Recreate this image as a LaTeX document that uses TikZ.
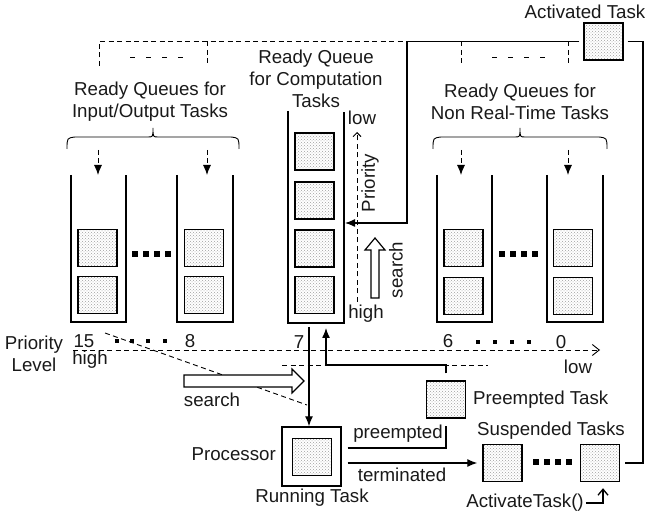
\documentclass[tikz,border=0pt]{standalone}
\usepackage{fontspec}
\setmainfont{Liberation Sans}
\usetikzlibrary{arrows.meta,patterns}
\begin{document}
\begin{tikzpicture}[x=1pt,y=-1pt,
  every node/.style={font=\fontsize{18.7}{22}\selectfont, inner sep=0pt, text=black!90},
  task/.style={draw, line width=1.4pt, minimum width=39pt, minimum height=37pt,
    pattern=crosshatch dots, pattern color=gray!75},
  procbox/.style={draw, line width=1.4pt, minimum size=59pt},
  wall/.style={line width=2pt},
  conn/.style={line width=1.3pt},
  dsh/.style={dash pattern=on 5pt off 3.5pt, line width=0.9pt},
  ftip/.style={-{Latex[length=10pt,width=8pt]}},
  otip/.style={-{Straight Barb[length=7pt,width=11pt]}},
  bigdot/.style={fill=black, minimum size=6pt, inner sep=0pt},
  smalldot/.style={fill=black, minimum size=4pt, inner sep=0pt},
  fatarrow/.style={draw, line width=1.2pt, fill=white},
  brace/.style={line width=0.9pt}
]
\useasboundingbox (0,0) rectangle (649,516);

% ---------- queues (walls) ----------
\draw[wall] (71,175) -- (71,322) -- (126,322) -- (126,175);
\draw[wall] (177,175) -- (177,322) -- (233,322) -- (233,175);
\draw[wall] (288,111) -- (288,323) -- (344,323) -- (344,112);
\draw[wall] (437,175) -- (437,322) -- (492,322) -- (492,175);
\draw[wall] (547,175) -- (547,322) -- (603,322) -- (603,175);

% ---------- tasks in queues ----------
\node[task] (q1a) at (97.5,248) {};
\node[task] (q1b) at (97.5,295) {};
\node[task] (q2a) at (204,248) {};
\node[task] (q2b) at (204,295) {};
\node[task] (cqa) at (314.5,151.5) {};
\node[task] (cqb) at (314.5,200.5) {};
\node[task] (cqc) at (314.5,248.5) {};
\node[task] (cqd) at (314.5,295) {};
\node[task] (q3a) at (463.5,248) {};
\node[task] (q3b) at (463.5,296) {};
\node[task] (q4a) at (573,248) {};
\node[task] (q4b) at (573,296) {};

% dots between queues
\foreach \x in {135,146,157,168} \node[bigdot] at (\x,254) {};
\foreach \x in {501.5,512.5,523.5,534.5} \node[bigdot] at (\x,254) {};

% ---------- top labels and braces ----------
\node (act) [task] at (603.5,41.5) {};
\node (actl) at (585,12) {Activated Task};
\node[align=center] (lio) at (150,102) {Ready Queues for\\Input/Output Tasks};
\node[align=center] (lnrt) at (520,102) {Ready Queues for\\Non Real-Time Tasks};
\node[align=center] (lcomp) at (316,79) {Ready Queue\\for Computation\\Tasks};

\draw[brace] (67,149) .. controls (67,138) .. (75,137) -- (148,137)
  .. controls (153,137) .. (153,128) .. controls (153,137) .. (158,137)
  -- (231,137) .. controls (239,138) .. (239,149);
\draw[brace] (433,149) .. controls (433,138) .. (441,137) -- (515,137)
  .. controls (520,137) .. (520,128) .. controls (520,137) .. (525,137)
  -- (599,137) .. controls (607,138) .. (607,149);

% dashed feed lines
\draw[dsh] (99,66) -- (99,41.5) -- (407,41.5);
\draw[dsh] (207,41.5) -- (207,66);
\draw[dsh] (461,41.5) -- (461,66);
\draw[dsh] (568,41.5) -- (568,66);
\draw[dsh, dash pattern=on 5pt off 11pt] (130,57) -- (185,57);
\draw[dsh, dash pattern=on 5pt off 11pt] (492,57) -- (547,57);

\coordinate (q1t) at (98,175);
\coordinate (q2t) at (207,175);
\coordinate (q3t) at (461,175);
\coordinate (q4t) at (568,175);
\draw[dsh, ftip] (98,150) -- (q1t);
\draw[dsh, ftip] (207,150) -- (q2t);
\draw[dsh, ftip] (461,150) -- (q3t);
\draw[dsh, ftip] (568,150) -- (q4t);

% activated task to computation queue
\coordinate (cqr) at (345,223);
\draw[conn, ftip, shorten <=4pt] (act.west) -| (407,223) -- (cqr);

% ---------- priority axis inside computation queue ----------
\node (plow) at (362,118) {low};
\node (phigh) at (366,314) {high};
\node[rotate=90] (pprio) at (370,183) {Priority};
\node[rotate=90] (psearch) at (396,270) {search};
\draw[dsh, -{Straight Barb[length=4pt,width=8pt]}] (357,302) -- (357,132);
\draw[fatarrow] (371,298) -- (371,250) -- (365,250) -- (375,238) -- (385,250)
  -- (379,250) -- (379,298) -- cycle;

% ---------- priority levels ----------
\node[align=center] (plev) at (34,354) {Priority\\Level};
\node (l15) at (84,341) {15};
\node (lhigh) at (90,360) {high};
\node (l8) at (190,341) {8};
\node (l7) at (299,342) {7};
\node (l6) at (448,341) {6};
\node (l0) at (561,342) {0};
\node (llow) at (578,367) {low};
\foreach \x in {117,132,148,165} \node[smalldot] at (\x,341) {};
\foreach \x in {478,495,512,529} \node[smalldot] at (\x,342) {};

\draw[dsh, otip] (73,350) -- (600,350);
\draw[dsh] (282,365) -- (488,365);
\draw[dsh] (105,333) -- (307,405);

\draw[fatarrow] (184,375) -- (292,375) -- (292,369) -- (304,381) -- (292,393)
  -- (292,387) -- (184,387) -- cycle;
\node (lsearch) at (212,400) {search};

% ---------- processor ----------
\node[procbox] (proc) at (311.5,456.5) {};
\node[task] (run) at (312,457) {};
\node[anchor=east] (lproc) at (276,454) {Processor};
\node (lrun) at (312,498) {Running Task};

\coordinate (cqbot) at (309,327);
\draw[conn, ftip] (cqbot) -- (cqbot |- proc.north);

% ---------- preempted ----------
\node[task] (pre) at (446,399.5) {};
\node[anchor=west] (lpre) at (473,400) {Preempted Task};
\coordinate (cqbot2) at (326,323);
\draw[conn, ftip, shorten <=7pt, shorten >=5pt] (pre.north) |- (326,365) -- (cqbot2);
\draw[conn, shorten >=7pt] ([shift={(6,-8.5)}]proc.east) -| (pre.south);
\node (lpreempted) at (398,434) {preempted};

% ---------- suspended ----------
\node[task] (s1) at (502.5,463) {};
\node[task] (s2) at (600,463) {};
\foreach \x in {536,547,558,569} \node[bigdot] at (\x,462) {};
\node (lsusp) at (551,431) {Suspended Tasks};
\draw[conn, ftip, shorten >=5pt] ([shift={(6,6.5)}]proc.east) -- (s1.west);
\node (lterm) at (402,475) {terminated};

\draw[conn, shorten <=4pt, shorten >=5pt] (act.east) -| (643,463) -- (s2.east);

\node (lat) at (525,503) {ActivateTask()};
\draw[conn, -{Straight Barb[length=6pt,width=10pt]}, shorten <=2pt, shorten >=6pt]
  (lat.east) -| ([xshift=3pt]s2.south);
\end{tikzpicture}
\end{document}
